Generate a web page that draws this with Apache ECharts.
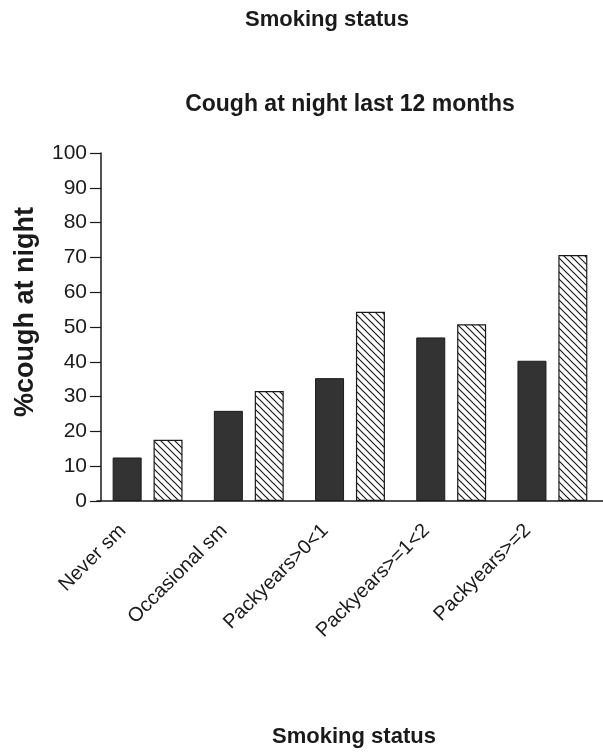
<!DOCTYPE html>
<html>
<head>
<meta charset="utf-8">
<script src="https://cdn.jsdelivr.net/npm/echarts@6/dist/echarts.min.js"></script>
<style>
  html, body { margin: 0; padding: 0; background: #ffffff; }
  #chart { width: 603px; height: 753px; }
</style>
</head>
<body>
<div id="chart"></div>
<script>
// Smoking status categories
const categories = ['Never sm', 'Occasional sm', 'Packyears>0<1', 'Packyears>=1<2', 'Packyears>=2'];
// % with cough at night, two groups per category
const solidValues = [12.5, 25.9, 35.3, 47.0, 40.3];
const hatchedValues = [17.6, 31.6, 54.4, 50.8, 70.7];
// value axis ticks
const yTicks = [0, 10, 20, 30, 40, 50, 60, 70, 80, 90, 100];

const FONT = '"Liberation Sans", Arial, sans-serif';

// diagonal hatch tile ("\" direction)
function hatchPattern() {
  const s = 7;
  const c = document.createElement('canvas');
  c.width = s; c.height = s;
  const g = c.getContext('2d');
  g.fillStyle = '#ffffff';
  g.fillRect(0, 0, s, s);
  g.strokeStyle = '#1a1a1a';
  g.lineWidth = 1.2;
  g.beginPath();
  g.moveTo(-1, -1); g.lineTo(s + 1, s + 1);
  g.moveTo(-1, s - 1); g.lineTo(1, s + 1);
  g.moveTo(s - 1, -1); g.lineTo(s + 1, 1);
  g.stroke();
  return { image: c, repeat: 'repeat' };
}

const chart = echarts.init(document.getElementById('chart'), null, { renderer: 'canvas' });

chart.setOption({
  animation: false,
  backgroundColor: '#ffffff',
  title: [
    {
      text: 'Smoking status', left: 327, top: 9, textAlign: 'center', padding: 0,
      textStyle: { fontFamily: FONT, fontSize: 22, fontWeight: 'bold', color: '#1a1a1a' }
    },
    {
      text: 'Cough at night last 12 months', left: 350, top: 93, textAlign: 'center', padding: 0,
      textStyle: { fontFamily: FONT, fontSize: 23, fontWeight: 'bold', color: '#1a1a1a' }
    },
    {
      text: 'Smoking status', left: 354, top: 726, textAlign: 'center', padding: 0,
      textStyle: { fontFamily: FONT, fontSize: 22, fontWeight: 'bold', color: '#1a1a1a' }
    }
  ],
  grid: { left: 97, top: 153, width: 511, bottom: 252, containLabel: false },
  xAxis: {
    type: 'category',
    data: categories,
    axisLine: { lineStyle: { color: '#1a1a1a', width: 1.5 } },
    axisTick: { show: false },
    axisLabel: {
      rotate: 45, margin: 16, interval: 0,
      verticalAlign: 'bottom',
      padding: [0, 25, 0, 0],
      fontFamily: FONT, fontSize: 20, color: '#1a1a1a'
    }
  },
  yAxis: {
    type: 'value',
    min: yTicks[0], max: yTicks[yTicks.length - 1], interval: 10,
    offset: -4,
    name: '%cough at night',
    nameLocation: 'middle',
    nameRotate: 90,
    nameGap: 62,
    nameTextStyle: {
      fontFamily: FONT, fontSize: 27, fontWeight: 'bold', color: '#1a1a1a',
      padding: [0, 0, 0, 30]
    },
    axisLine: { show: true, lineStyle: { color: '#1a1a1a', width: 1.5 } },
    axisTick: { show: true, inside: false, length: 11, lineStyle: { color: '#1a1a1a', width: 1.2 } },
    axisLabel: { margin: 14, fontFamily: FONT, fontSize: 21, color: '#1a1a1a' },
    splitLine: { show: false }
  },
  series: [
    {
      type: 'bar', data: solidValues,
      barWidth: 29, barGap: '41%',
      itemStyle: { color: '#333333', borderColor: '#1a1a1a', borderWidth: 1 }
    },
    {
      type: 'bar', data: hatchedValues,
      barWidth: 29, barGap: '41%',
      itemStyle: { color: hatchPattern(), borderColor: '#1a1a1a', borderWidth: 1.2 }
    }
  ]
});
</script>
</body>
</html>
